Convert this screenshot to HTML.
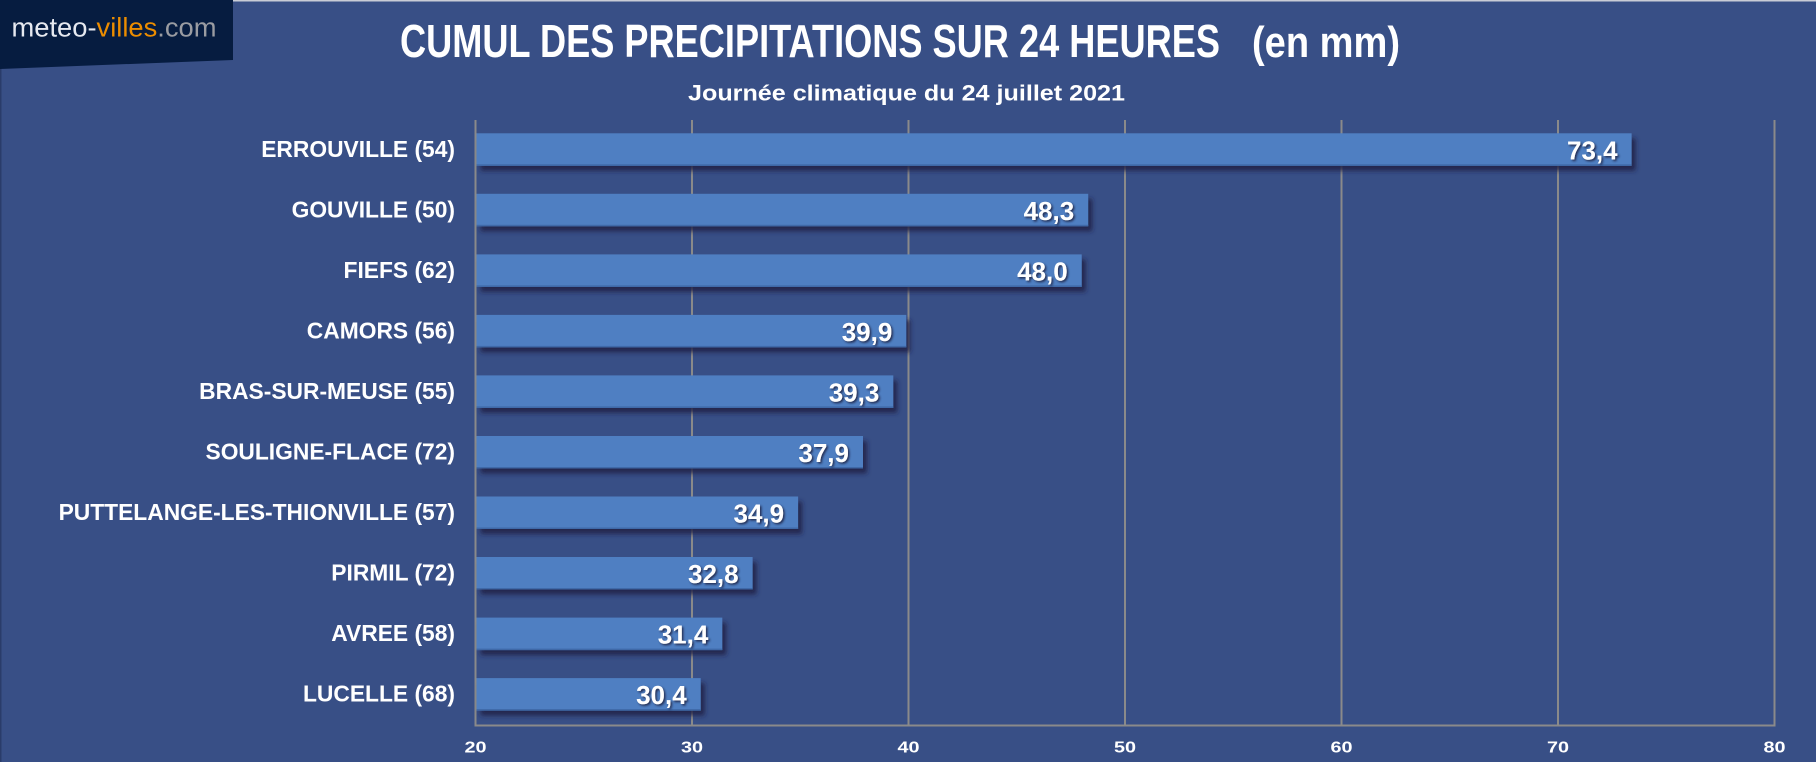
<!DOCTYPE html>
<html>
<head>
<meta charset="utf-8">
<style>
  html,body{margin:0;padding:0;background:#384f86;}
  svg{display:block;}
</style>
</head>
<body>
<svg width="1816" height="762" viewBox="0 0 1816 762" xmlns="http://www.w3.org/2000/svg">
  <defs>
    <filter id="bs" x="-5%" y="-50%" width="115%" height="220%">
      <feDropShadow dx="4" dy="5" stdDeviation="2.5" flood-color="#1a2444" flood-opacity="0.85"/>
    </filter>
    <filter id="ts" x="-20%" y="-30%" width="150%" height="170%">
      <feDropShadow dx="1.5" dy="1.5" stdDeviation="1" flood-color="#1a2444" flood-opacity="0.9"/>
    </filter>
  </defs>
  <rect x="0" y="0" width="1816" height="762" fill="#384f86"/>
  <rect x="0" y="0" width="1816" height="1.5" fill="#c9ccd6"/>
  <rect x="0" y="0" width="1.5" height="762" fill="#2a3c6a"/>

  <!-- logo -->
  <polygon points="0,0 233,0 233,60 0,69" fill="#061c40"/>
  <text x="11.5" y="36.7" font-family="Liberation Sans, sans-serif" font-size="27" textLength="205" lengthAdjust="spacingAndGlyphs"><tspan fill="#e6e9f0">meteo-</tspan><tspan fill="#ec8d00">villes</tspan><tspan fill="#9a9ca2">.com</tspan></text>

  <!-- title -->
  <text x="400" y="57" font-family="Liberation Sans, sans-serif" font-weight="bold" font-size="46" fill="#ffffff" textLength="820" lengthAdjust="spacingAndGlyphs">CUMUL DES PRECIPITATIONS SUR 24 HEURES</text>
  <text x="1252" y="57" font-family="Liberation Sans, sans-serif" font-weight="bold" font-size="44" fill="#ffffff" textLength="148" lengthAdjust="spacingAndGlyphs">(en mm)</text>
  <text x="688" y="100.5" font-family="Liberation Sans, sans-serif" font-weight="bold" font-size="22.5" fill="#ffffff" textLength="437" lengthAdjust="spacingAndGlyphs">Journée climatique du 24 juillet 2021</text>

  <!-- gridlines -->
  <g stroke="#8a8a8a" stroke-width="2">
    <line x1="475.5" y1="120" x2="475.5" y2="726"/>
    <line x1="692" y1="120" x2="692" y2="726"/>
    <line x1="908.5" y1="120" x2="908.5" y2="726"/>
    <line x1="1125" y1="120" x2="1125" y2="726"/>
    <line x1="1341.5" y1="120" x2="1341.5" y2="726"/>
    <line x1="1558" y1="120" x2="1558" y2="726"/>
    <line x1="1774.5" y1="120" x2="1774.5" y2="726"/>
    <line x1="474.5" y1="725.5" x2="1775.5" y2="725.5"/>
  </g>

  <!-- bars -->
  <g filter="url(#bs)">
    <rect x="476.5" y="133.3" width="1155.1" height="32.5" fill="#4f7fc2"/>
    <rect x="476.5" y="193.8" width="611.7" height="32.5" fill="#4f7fc2"/>
    <rect x="476.5" y="254.4" width="605.2" height="32.5" fill="#4f7fc2"/>
    <rect x="476.5" y="314.9" width="429.8" height="32.5" fill="#4f7fc2"/>
    <rect x="476.5" y="375.4" width="416.8" height="32.5" fill="#4f7fc2"/>
    <rect x="476.5" y="436.0" width="386.5" height="32.5" fill="#4f7fc2"/>
    <rect x="476.5" y="496.5" width="321.6" height="32.5" fill="#4f7fc2"/>
    <rect x="476.5" y="557.0" width="276.1" height="32.5" fill="#4f7fc2"/>
    <rect x="476.5" y="617.6" width="245.8" height="32.5" fill="#4f7fc2"/>
    <rect x="476.5" y="678.1" width="224.2" height="32.5" fill="#4f7fc2"/>
  </g>
  <!-- bar bottom edges -->
  <g fill="#3f69a8">
    <rect x="476.5" y="164.3" width="1155.1" height="1.5"/>
    <rect x="476.5" y="224.8" width="611.7" height="1.5"/>
    <rect x="476.5" y="285.4" width="605.2" height="1.5"/>
    <rect x="476.5" y="345.9" width="429.8" height="1.5"/>
    <rect x="476.5" y="406.4" width="416.8" height="1.5"/>
    <rect x="476.5" y="467.0" width="386.5" height="1.5"/>
    <rect x="476.5" y="527.5" width="321.6" height="1.5"/>
    <rect x="476.5" y="588.0" width="276.1" height="1.5"/>
    <rect x="476.5" y="648.6" width="245.8" height="1.5"/>
    <rect x="476.5" y="709.1" width="224.2" height="1.5"/>
  </g>

  <!-- value labels -->
  <g font-family="Liberation Sans, sans-serif" font-weight="bold" font-size="26" fill="#ffffff" text-anchor="end" filter="url(#ts)">
    <text x="1617.6" y="159.3">73,4</text>
    <text x="1074.2" y="219.8">48,3</text>
    <text x="1067.7" y="280.4">48,0</text>
    <text x="892.3" y="340.9">39,9</text>
    <text x="879.3" y="401.4">39,3</text>
    <text x="849.0" y="462.0">37,9</text>
    <text x="784.1" y="522.5">34,9</text>
    <text x="738.6" y="583.0">32,8</text>
    <text x="708.3" y="643.6">31,4</text>
    <text x="686.7" y="704.1">30,4</text>
  </g>

  <!-- category labels -->
  <g font-family="Liberation Sans, sans-serif" font-weight="bold" font-size="22.8" fill="#ffffff" text-anchor="end">
    <text x="455" y="156.8">ERROUVILLE (54)</text>
    <text x="455" y="217.3">GOUVILLE (50)</text>
    <text x="455" y="277.9">FIEFS (62)</text>
    <text x="455" y="338.4">CAMORS (56)</text>
    <text x="455" y="398.9">BRAS-SUR-MEUSE (55)</text>
    <text x="455" y="459.5">SOULIGNE-FLACE (72)</text>
    <text x="455" y="520.0">PUTTELANGE-LES-THIONVILLE (57)</text>
    <text x="455" y="580.5">PIRMIL (72)</text>
    <text x="455" y="641.1">AVREE (58)</text>
    <text x="455" y="701.6">LUCELLE (68)</text>
  </g>

  <!-- tick labels -->
  <g font-family="Liberation Sans, sans-serif" font-weight="bold" font-size="16" fill="#ffffff">
    <text x="464.5" y="752.5" textLength="22" lengthAdjust="spacingAndGlyphs">20</text>
    <text x="681" y="752.5" textLength="22" lengthAdjust="spacingAndGlyphs">30</text>
    <text x="897.5" y="752.5" textLength="22" lengthAdjust="spacingAndGlyphs">40</text>
    <text x="1114" y="752.5" textLength="22" lengthAdjust="spacingAndGlyphs">50</text>
    <text x="1330.5" y="752.5" textLength="22" lengthAdjust="spacingAndGlyphs">60</text>
    <text x="1547" y="752.5" textLength="22" lengthAdjust="spacingAndGlyphs">70</text>
    <text x="1763.5" y="752.5" textLength="22" lengthAdjust="spacingAndGlyphs">80</text>
  </g>
</svg>
</body>
</html>
